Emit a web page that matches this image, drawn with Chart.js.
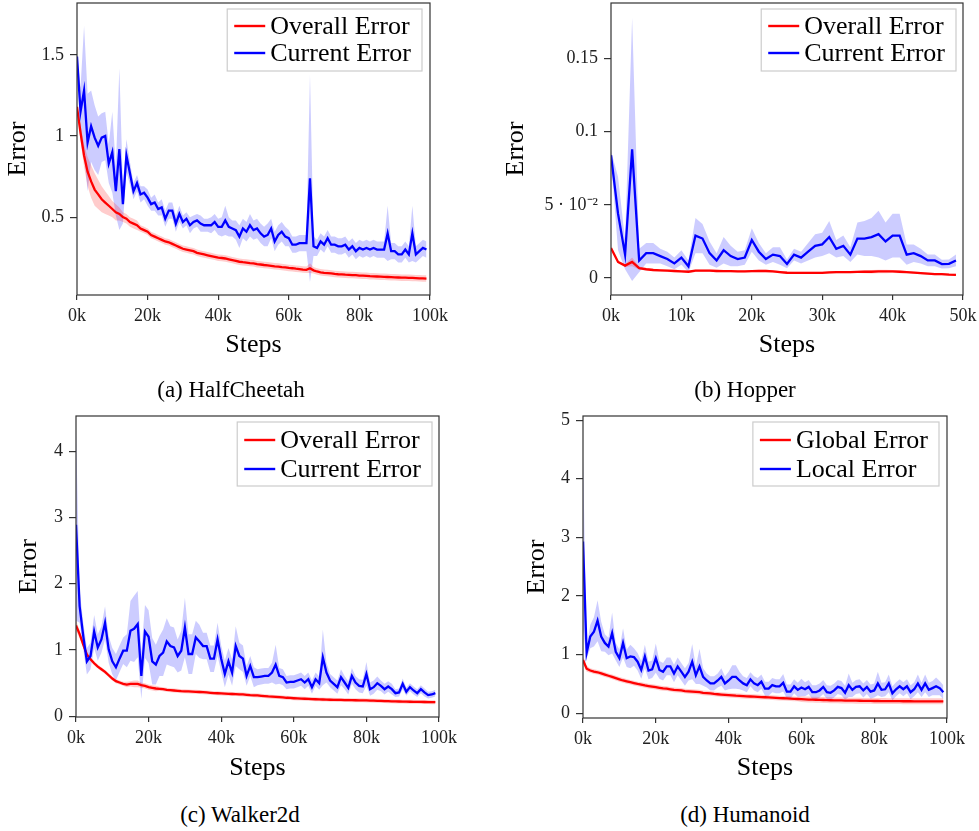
<!DOCTYPE html>
<html><head><meta charset="utf-8">
<script src="https://cdn.jsdelivr.net/npm/chart.js@4.4.1/dist/chart.umd.min.js"></script>
<style>
html,body{margin:0;padding:0;background:#fff;}
body{width:979px;height:831px;position:relative;overflow:hidden;font-family:"Liberation Serif","Times New Roman",serif;}
canvas{position:absolute;}
.cap{position:absolute;font-size:23px;line-height:26px;color:#000;text-align:center;width:300px;}
</style></head><body>
<canvas id="cA" width="460" height="370" style="left:0;top:0"></canvas>
<canvas id="cB" width="479" height="370" style="left:500px;top:0"></canvas>
<canvas id="cC" width="460" height="395" style="left:0;top:400px"></canvas>
<canvas id="cD" width="479" height="395" style="left:500px;top:400px"></canvas>
<div class="cap" style="left:81px;top:377px">(a) HalfCheetah</div>
<div class="cap" style="left:595px;top:377px">(b) Hopper</div>
<div class="cap" style="left:90px;top:802px">(c) Walker2d</div>
<div class="cap" style="left:595px;top:802px">(d) Humanoid</div>
<script>
// ---------- data (steps in thousands) ----------
const STEPS_100 = Array.from({length:100},(_,i)=>i);
const STEPS_50 = Array.from({length:50},(_,i)=>i);

const X_TICKS_100 = [0,20,40,60,80,100];
const X_LABELS_100 = ['0k','20k','40k','60k','80k','100k'];
const X_TICKS_50 = [0,10,20,30,40,50];
const X_LABELS_50 = ['0k','10k','20k','30k','40k','50k'];

const A_Y_TICKS = [0.5,1,1.5];
const A_Y_LABELS = ['0.5','1','1.5'];
const B_Y_TICKS = [0,0.05,0.1,0.15];
const B_Y_LABELS = ['0','5 \u00b7 10\u207b\u00b2','0.1','0.15'];
const C_Y_TICKS = [0,1,2,3,4];
const C_Y_LABELS = ['0','1','2','3','4'];
const D_Y_TICKS = [0,1,2,3,4,5];
const D_Y_LABELS = ['0','1','2','3','4','5'];

// (a) HalfCheetah
const A_CURRENT = [
1.49,1.15,1.28,0.96,1.06,0.99,0.94,0.99,1.00,0.83,
0.90,0.66,0.92,0.58,0.88,0.77,0.66,0.71,0.64,0.65,
0.62,0.58,0.59,0.55,0.56,0.49,0.54,0.54,0.46,0.52,
0.47,0.49,0.45,0.47,0.48,0.46,0.45,0.45,0.45,0.47,
0.44,0.44,0.48,0.44,0.43,0.42,0.38,0.43,0.41,0.45,
0.42,0.43,0.40,0.38,0.39,0.43,0.35,0.39,0.41,0.38,
0.37,0.33,0.33,0.34,0.34,0.34,0.74,0.32,0.31,0.35,
0.33,0.37,0.33,0.33,0.32,0.32,0.33,0.30,0.32,0.29,
0.31,0.30,0.31,0.30,0.31,0.30,0.30,0.30,0.40,0.29,
0.29,0.27,0.27,0.30,0.27,0.40,0.27,0.29,0.31,0.30];
const A_CURRENT_SD = [
0.02,0.15,0.40,0.30,0.22,0.20,0.18,0.15,0.15,0.12,
0.25,0.15,0.50,0.12,0.10,0.07,0.05,0.05,0.05,0.04,
0.05,0.04,0.05,0.04,0.05,0.05,0.05,0.05,0.05,0.05,
0.04,0.04,0.05,0.04,0.04,0.05,0.04,0.04,0.05,0.05,
0.05,0.06,0.09,0.06,0.05,0.06,0.07,0.06,0.06,0.07,
0.06,0.06,0.06,0.06,0.07,0.06,0.06,0.06,0.06,0.06,
0.05,0.05,0.05,0.05,0.05,0.05,0.64,0.06,0.05,0.05,
0.05,0.05,0.05,0.05,0.05,0.05,0.05,0.05,0.05,0.05,
0.05,0.05,0.05,0.05,0.05,0.05,0.05,0.05,0.17,0.05,
0.05,0.05,0.05,0.05,0.05,0.17,0.05,0.05,0.05,0.05];
const A_OVERALL = [
1.18,1.02,0.88,0.78,0.72,0.67,0.64,0.61,0.59,0.57,
0.55,0.53,0.52,0.50,0.49,0.47,0.46,0.45,0.43,0.42,
0.41,0.39,0.38,0.37,0.36,0.35,0.345,0.335,0.325,0.315,
0.305,0.30,0.295,0.29,0.28,0.275,0.27,0.265,0.26,0.255,
0.25,0.248,0.245,0.24,0.235,0.23,0.225,0.222,0.22,0.217,
0.215,0.21,0.208,0.205,0.203,0.20,0.197,0.195,0.192,0.19,
0.187,0.185,0.182,0.18,0.177,0.175,0.185,0.172,0.165,0.16,
0.157,0.155,0.153,0.15,0.148,0.147,0.145,0.144,0.143,0.142,
0.14,0.139,0.138,0.136,0.135,0.134,0.133,0.132,0.131,0.13,
0.129,0.128,0.127,0.127,0.126,0.125,0.124,0.123,0.122,0.121];
const A_OVERALL_SD = [
0.02,0.05,0.07,0.09,0.10,0.10,0.09,0.08,0.07,0.06,
0.05,0.05,0.04,0.03,0.03,0.03,0.03,0.03,0.02,0.02,
0.02,0.02,0.02,0.02,0.02,0.02,0.02,0.02,0.02,0.02,
0.02,0.02,0.02,0.02,0.02,0.02,0.02,0.02,0.02,0.02,
0.02,0.02,0.02,0.02,0.02,0.02,0.02,0.02,0.02,0.02,
0.02,0.02,0.02,0.02,0.02,0.02,0.02,0.02,0.02,0.02,
0.02,0.02,0.02,0.02,0.02,0.02,0.03,0.02,0.02,0.02,
0.02,0.02,0.02,0.02,0.02,0.02,0.02,0.02,0.02,0.02,
0.02,0.02,0.02,0.02,0.02,0.02,0.02,0.02,0.02,0.02,
0.02,0.02,0.02,0.02,0.02,0.02,0.02,0.02,0.02,0.02];

// (b) Hopper
const B_CURRENT = [
0.084,0.044,0.016,0.088,0.012,0.017,0.017,0.015,0.013,0.010,
0.014,0.008,0.029,0.027,0.017,0.012,0.019,0.015,0.013,0.014,
0.026,0.018,0.013,0.016,0.015,0.0096,0.016,0.014,0.018,0.022,
0.023,0.028,0.020,0.022,0.016,0.027,0.027,0.028,0.030,0.025,
0.029,0.029,0.016,0.017,0.015,0.012,0.012,0.0095,0.0097,0.012];
const B_CURRENT_SD = [
0.003,0.025,0.010,0.090,0.008,0.007,0.007,0.005,0.005,0.004,
0.005,0.004,0.012,0.010,0.008,0.005,0.009,0.007,0.005,0.005,
0.008,0.006,0.004,0.005,0.006,0.003,0.004,0.004,0.006,0.008,
0.008,0.011,0.006,0.007,0.005,0.011,0.012,0.013,0.016,0.013,
0.015,0.015,0.007,0.006,0.005,0.004,0.004,0.003,0.003,0.004];
const B_OVERALL = [
0.0205,0.011,0.0085,0.011,0.0068,0.006,0.0055,0.0052,0.005,0.0048,
0.0045,0.0043,0.005,0.005,0.005,0.0048,0.0047,0.0047,0.0046,0.0046,
0.0047,0.0048,0.0048,0.0045,0.004,0.0036,0.0035,0.0035,0.0035,0.0035,
0.0035,0.0038,0.004,0.004,0.004,0.0042,0.0043,0.0043,0.0045,0.0045,
0.0045,0.0043,0.004,0.0037,0.0033,0.003,0.0027,0.0027,0.0023,0.0022];
const B_OVERALL_SD = [
0.001,0.001,0.001,0.003,0.001,0.0008,0.0008,0.0008,0.0008,0.0008,
0.0008,0.0008,0.0008,0.0008,0.0008,0.0008,0.0008,0.0008,0.0008,0.0008,
0.0008,0.0008,0.0008,0.0008,0.0008,0.0008,0.0008,0.0008,0.0008,0.0008,
0.0008,0.0008,0.0008,0.0008,0.0008,0.0008,0.001,0.0012,0.0012,0.0012,
0.001,0.001,0.0008,0.0008,0.0008,0.0008,0.0008,0.0008,0.0008,0.0008];

// (c) Walker2d
const C_CURRENT = [
2.89,1.66,1.21,0.83,0.91,1.28,1.04,1.16,1.41,1.01,
0.83,0.74,0.87,0.99,0.99,1.29,1.32,1.39,0.61,1.28,
1.20,0.83,0.78,0.91,0.96,1.13,1.06,1.04,0.91,0.99,
1.34,0.94,0.94,1.19,1.13,1.06,1.06,0.87,0.87,1.16,
0.87,0.64,0.83,0.66,1.06,0.91,0.87,0.61,0.76,0.59,
0.59,0.60,0.61,0.61,0.66,0.78,0.61,0.59,0.51,0.52,
0.52,0.54,0.56,0.51,0.56,0.44,0.56,0.50,0.89,0.66,
0.54,0.49,0.44,0.59,0.51,0.43,0.61,0.51,0.46,0.45,
0.64,0.41,0.44,0.50,0.46,0.41,0.45,0.41,0.35,0.36,
0.49,0.37,0.44,0.39,0.35,0.41,0.36,0.32,0.33,0.35];
const C_CURRENT_SD = [
1.45,0.25,0.20,0.20,0.20,0.25,0.20,0.20,0.25,0.20,
0.20,0.20,0.20,0.20,0.25,0.45,0.50,0.50,0.35,0.40,
0.40,0.35,0.30,0.30,0.35,0.35,0.30,0.30,0.25,0.30,
0.45,0.30,0.30,0.25,0.25,0.20,0.20,0.20,0.20,0.25,
0.20,0.20,0.20,0.20,0.30,0.20,0.20,0.15,0.15,0.15,
0.12,0.12,0.12,0.12,0.15,0.30,0.12,0.12,0.10,0.10,
0.10,0.10,0.10,0.10,0.10,0.10,0.10,0.10,0.42,0.15,
0.10,0.10,0.10,0.12,0.10,0.10,0.12,0.10,0.10,0.10,
0.18,0.10,0.10,0.10,0.08,0.08,0.08,0.08,0.06,0.06,
0.08,0.06,0.06,0.06,0.06,0.06,0.06,0.05,0.05,0.05];
const C_OVERALL = [
1.37,1.24,1.08,0.93,0.86,0.80,0.75,0.71,0.67,0.62,
0.57,0.53,0.51,0.49,0.48,0.49,0.49,0.49,0.47,0.46,
0.44,0.43,0.42,0.415,0.41,0.40,0.395,0.39,0.385,0.38,
0.378,0.375,0.372,0.37,0.367,0.365,0.36,0.355,0.35,0.348,
0.345,0.342,0.34,0.337,0.335,0.332,0.33,0.325,0.32,0.317,
0.315,0.31,0.305,0.30,0.297,0.293,0.29,0.285,0.28,0.277,
0.273,0.27,0.268,0.265,0.263,0.26,0.258,0.256,0.254,0.252,
0.25,0.249,0.248,0.247,0.246,0.245,0.244,0.243,0.242,0.241,
0.24,0.238,0.236,0.234,0.232,0.23,0.228,0.226,0.225,0.224,
0.222,0.221,0.22,0.219,0.218,0.217,0.216,0.215,0.214,0.213];
const C_OVERALL_SD = [
0.08,0.06,0.05,0.04,0.03,0.03,0.03,0.03,0.03,0.03,
0.03,0.03,0.03,0.03,0.04,0.04,0.05,0.05,0.04,0.04,
0.04,0.04,0.04,0.03,0.03,0.03,0.03,0.03,0.03,0.03,
0.03,0.03,0.03,0.03,0.03,0.03,0.03,0.03,0.03,0.03,
0.03,0.03,0.03,0.03,0.03,0.03,0.03,0.03,0.03,0.03,
0.03,0.03,0.03,0.03,0.03,0.03,0.03,0.03,0.03,0.03,
0.03,0.03,0.03,0.03,0.03,0.03,0.03,0.03,0.03,0.03,
0.03,0.03,0.03,0.03,0.03,0.03,0.03,0.03,0.03,0.03,
0.03,0.03,0.03,0.03,0.03,0.03,0.03,0.03,0.03,0.03,
0.03,0.03,0.03,0.03,0.03,0.03,0.03,0.03,0.03,0.03];

// (d) Humanoid
const D_LOCAL = [
2.93,1.03,1.31,1.39,1.58,1.31,1.20,1.14,1.37,1.05,
0.94,1.20,0.94,0.97,0.96,0.88,0.74,0.97,0.73,0.75,
0.94,0.74,0.71,0.80,0.80,0.68,0.80,0.71,0.62,0.71,
0.88,0.65,0.80,0.62,0.56,0.51,0.51,0.56,0.62,0.51,
0.56,0.62,0.62,0.56,0.51,0.48,0.58,0.51,0.48,0.54,
0.42,0.42,0.48,0.46,0.46,0.52,0.37,0.37,0.46,0.40,
0.44,0.41,0.45,0.36,0.36,0.39,0.45,0.36,0.35,0.39,
0.45,0.43,0.35,0.48,0.40,0.45,0.46,0.39,0.45,0.37,
0.39,0.51,0.40,0.41,0.51,0.34,0.41,0.46,0.41,0.46,
0.36,0.41,0.51,0.40,0.51,0.40,0.43,0.46,0.43,0.36];
const D_LOCAL_SD = [
1.50,0.10,0.20,0.25,0.35,0.25,0.15,0.15,0.35,0.15,
0.15,0.25,0.15,0.20,0.15,0.15,0.15,0.20,0.15,0.15,
0.25,0.15,0.15,0.15,0.15,0.15,0.15,0.15,0.15,0.15,
0.30,0.15,0.30,0.15,0.12,0.12,0.12,0.12,0.15,0.12,
0.15,0.20,0.20,0.15,0.12,0.12,0.12,0.12,0.12,0.12,
0.12,0.12,0.12,0.12,0.12,0.15,0.12,0.12,0.12,0.12,
0.15,0.12,0.12,0.12,0.12,0.12,0.12,0.12,0.12,0.12,
0.12,0.12,0.12,0.20,0.12,0.12,0.12,0.12,0.12,0.12,
0.12,0.20,0.12,0.12,0.15,0.12,0.12,0.12,0.12,0.12,
0.12,0.12,0.15,0.12,0.15,0.12,0.12,0.15,0.12,0.12];
const D_GLOBAL = [
0.91,0.76,0.73,0.71,0.70,0.68,0.66,0.64,0.62,0.60,
0.58,0.56,0.545,0.53,0.515,0.50,0.49,0.475,0.465,0.455,
0.445,0.435,0.425,0.42,0.41,0.40,0.395,0.39,0.38,0.375,
0.37,0.365,0.36,0.35,0.345,0.34,0.33,0.325,0.32,0.315,
0.31,0.305,0.30,0.297,0.293,0.29,0.287,0.284,0.28,0.277,
0.274,0.27,0.267,0.264,0.26,0.257,0.254,0.25,0.247,0.244,
0.241,0.238,0.235,0.233,0.231,0.229,0.227,0.225,0.223,0.221,
0.22,0.219,0.218,0.217,0.216,0.215,0.214,0.213,0.212,0.211,
0.21,0.21,0.209,0.209,0.208,0.208,0.207,0.207,0.206,0.206,
0.206,0.205,0.205,0.205,0.205,0.205,0.205,0.205,0.205,0.205];
const D_GLOBAL_SD = [
0.06,0.05,0.04,0.04,0.04,0.04,0.04,0.04,0.04,0.04,
0.04,0.04,0.04,0.04,0.04,0.04,0.04,0.04,0.04,0.04,
0.04,0.04,0.04,0.04,0.04,0.04,0.04,0.04,0.04,0.04,
0.04,0.04,0.04,0.04,0.04,0.04,0.04,0.04,0.04,0.04,
0.04,0.04,0.04,0.04,0.04,0.04,0.04,0.04,0.04,0.04,
0.04,0.04,0.04,0.04,0.04,0.04,0.04,0.04,0.04,0.04,
0.05,0.05,0.05,0.05,0.05,0.05,0.05,0.05,0.05,0.05,
0.05,0.05,0.05,0.05,0.05,0.05,0.05,0.05,0.05,0.05,
0.05,0.05,0.05,0.05,0.05,0.05,0.05,0.05,0.05,0.05,
0.05,0.05,0.05,0.05,0.05,0.05,0.05,0.05,0.05,0.05];

// ---------- rendering ----------
const FONT = '"Liberation Serif", "Times New Roman", serif';
const pts = (xs, ys) => ys.map((v,i)=>({x:xs[i], y:v}));
const edge = (xs, ys, sd, s) => ys.map((v,i)=>({x:xs[i], y:v + s*sd[i]}));

function frameLegendPlugin(items, L) {
  return {
    id: 'frameLegend',
    afterDraw(chart) {
      const ca = chart.chartArea, ctx = chart.ctx;
      ctx.save();
      ctx.strokeStyle = '#333'; ctx.lineWidth = 1.2;
      ctx.strokeRect(ca.left, ca.top, ca.right - ca.left, ca.bottom - ca.top);
      ctx.font = '26px ' + FONT;
      const tw = Math.max(...items.map(it => ctx.measureText(it.label).width));
      const w = 7 + 31 + 5 + tw + 11, h = L.h;
      const x = ca.right - L.inset - w, y = ca.top + L.top;
      ctx.fillStyle = '#fff'; ctx.fillRect(x, y, w, h);
      ctx.strokeStyle = '#cccccc'; ctx.lineWidth = 1.2; ctx.strokeRect(x, y, w, h);
      items.forEach((it, i) => {
        const cy = y + L.rows[i];
        ctx.strokeStyle = it.color; ctx.lineWidth = 2.4;
        ctx.beginPath(); ctx.moveTo(x + 7, cy); ctx.lineTo(x + 38, cy); ctx.stroke();
        ctx.fillStyle = '#000'; ctx.textBaseline = 'middle'; ctx.textAlign = 'left';
        ctx.fillText(it.label, x + 43, cy + 1);
      });
      ctx.restore();
    }
  };
}

function makeChart(id, o) {
  const xs = o.steps;
  const hidden = {borderColor:'rgba(0,0,0,0)', borderWidth:0, pointRadius:0, pointHoverRadius:0};
  new Chart(document.getElementById(id), {
    type: 'line',
    data: { datasets: [
      Object.assign({data: edge(xs,o.blue,o.blueSd,1), fill:'+1', backgroundColor:'rgba(0,0,255,0.2)', order:3}, hidden),
      Object.assign({data: edge(xs,o.blue,o.blueSd,-1), fill:false, order:3}, hidden),
      Object.assign({data: edge(xs,o.red,o.redSd,1), fill:'+1', backgroundColor:'rgba(255,0,0,0.2)', order:2}, hidden),
      Object.assign({data: edge(xs,o.red,o.redSd,-1), fill:false, order:2}, hidden),
      {label:o.labels[0], data: pts(xs,o.red), borderColor:'#ff0000', backgroundColor:'#ff0000', borderWidth:2.3, pointRadius:0, fill:false, order:1},
      {label:o.labels[1], data: pts(xs,o.blue), borderColor:'#0000ff', backgroundColor:'#0000ff', borderWidth:2.3, pointRadius:0, fill:false, order:0}
    ]},
    options: {
      responsive:false, animation:false, devicePixelRatio:1,
      events: [],
      layout: { padding: o.pad },
      plugins: { legend:{display:false}, tooltip:{enabled:false} },
      scales: {
        x: {
          type:'linear', min:o.xmin, max:o.xmax,
          afterBuildTicks: s => { s.ticks = o.xTicks.map(v => ({value:v})); },
          afterFit: s => { s.height = o.xH; s.paddingLeft = 0; s.paddingRight = 0; },
          ticks: { callback:(v,i) => o.xLabels[i], font:{family:FONT, size:18}, color:'#222', padding:5, autoSkip:false, maxRotation:0 },
          grid: { display:true, drawOnChartArea:false, drawTicks:true, tickLength:5, color:'#333', lineWidth:1.2 },
          border: { display:false },
          title: { display:true, text:'Steps', font:{family:FONT, size:26}, color:'#000', padding:{top:0, bottom:o.xTitlePad} }
        },
        y: {
          min:o.ymin, max:o.ymax,
          afterBuildTicks: s => { s.ticks = o.yTicks.map(v => ({value:v})); },
          afterFit: s => { s.width = o.yW; s.paddingTop = 0; s.paddingBottom = 0; },
          ticks: { callback:(v,i) => o.yLabels[i], font:{family:FONT, size:18}, color:'#222', padding:6, autoSkip:false },
          grid: { display:true, drawOnChartArea:false, drawTicks:true, tickLength:7, color:'#333', lineWidth:1.2 },
          border: { display:false },
          title: { display:true, text:'Error', font:{family:FONT, size:26}, color:'#000', padding:{top:o.yTitlePad, bottom:0} }
        }
      }
    },
    plugins: [frameLegendPlugin([{label:o.labels[0], color:'#ff0000'},{label:o.labels[1], color:'#0000ff'}], o.legend)]
  });
}

makeChart('cA', {
  steps: STEPS_100, blue: A_CURRENT, blueSd: A_CURRENT_SD, red: A_OVERALL, redSd: A_OVERALL_SD,
  labels: ['Overall Error','Current Error'],
  xmin:0, xmax:100, ymin:0.02, ymax:1.82,
  xTicks: X_TICKS_100, xLabels: X_LABELS_100, yTicks: A_Y_TICKS, yLabels: A_Y_LABELS,
  pad: {left:0, top:3, right:30, bottom:0}, yW:77, xH:75, xTitlePad:9, yTitlePad:3,
  legend: {inset:8, top:6, h:62, rows:[17,44]}
});
makeChart('cB', {
  steps: STEPS_50, blue: B_CURRENT, blueSd: B_CURRENT_SD, red: B_OVERALL, redSd: B_OVERALL_SD,
  labels: ['Overall Error','Current Error'],
  xmin:0, xmax:50, ymin:-0.0116, ymax:0.188,
  xTicks: X_TICKS_50, xLabels: X_LABELS_50, yTicks: B_Y_TICKS, yLabels: B_Y_LABELS,
  pad: {left:0, top:3, right:16, bottom:0}, yW:111, xH:75, xTitlePad:9, yTitlePad:1,
  legend: {inset:7, top:6, h:62, rows:[17,44]}
});
makeChart('cC', {
  steps: STEPS_100, blue: C_CURRENT, blueSd: C_CURRENT_SD, red: C_OVERALL, redSd: C_OVERALL_SD,
  labels: ['Overall Error','Current Error'],
  xmin:0, xmax:100, ymin:-0.01, ymax:4.53,
  xTicks: X_TICKS_100, xLabels: X_LABELS_100, yTicks: C_Y_TICKS, yLabels: C_Y_LABELS,
  pad: {left:0, top:16, right:21, bottom:0}, yW:76, xH:78, xTitlePad:11, yTitlePad:14,
  legend: {inset:7, top:6, h:64, rows:[18,47]}
});
makeChart('cD', {
  steps: STEPS_100, blue: D_LOCAL, blueSd: D_LOCAL_SD, red: D_GLOBAL, redSd: D_GLOBAL_SD,
  labels: ['Global Error','Local Error'],
  xmin:0, xmax:100, ymin:-0.08, ymax:5.07,
  xTicks: X_TICKS_100, xLabels: X_LABELS_100, yTicks: D_Y_TICKS, yLabels: D_Y_LABELS,
  pad: {left:0, top:16, right:32, bottom:0}, yW:83, xH:77, xTitlePad:11, yTitlePad:22,
  legend: {inset:8, top:6, h:64, rows:[18,47]}
});
</script>
</body></html>
